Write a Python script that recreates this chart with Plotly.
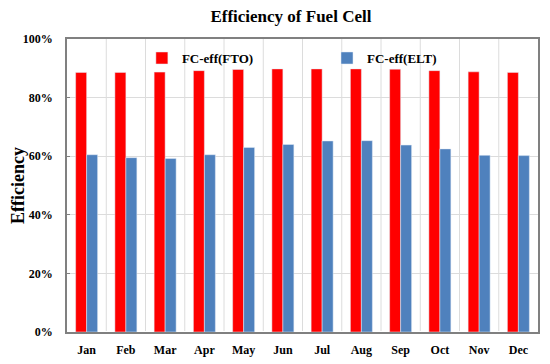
import plotly.graph_objects as go

months = ["Jan", "Feb", "Mar", "Apr", "May", "Jun", "Jul", "Aug", "Sep", "Oct", "Nov", "Dec"]
fto = [88.6, 88.6, 88.7, 89.2, 89.6, 89.8, 89.8, 89.8, 89.7, 89.2, 88.8, 88.6]
elt = [60.5, 59.5, 59.2, 60.5, 63.0, 64.0, 65.2, 65.3, 63.8, 62.5, 60.3, 60.2]
y_ticks = [0, 20, 40, 60, 80, 100]
y_labels = ["0%", "20%", "40%", "60%", "80%", "100%"]

ff = "Liberation Serif, Times New Roman, serif"

fig = go.Figure()
fig.add_trace(go.Bar(x=months, y=fto, name="FC-eff(FTO)", marker_color="#ff0000",
                     legend="legend", showlegend=True))
fig.add_trace(go.Bar(x=months, y=elt, name="FC-eff(ELT)", marker_color="#4f81bd",
                     legend="legend2", showlegend=True))

for i in range(1, 12):
    fig.add_vline(x=i - 0.5, line_color="#dcdcdc", line_width=1, layer="below")

legend_font = dict(family=ff, size=13, color="black", weight="bold")
tick_font = dict(family=ff, size=12, color="black", weight="bold")

fig.update_layout(
    width=542, height=356,
    margin=dict(l=59, r=12, t=31, b=32, autoexpand=False),
    paper_bgcolor="white", plot_bgcolor="white",
    barmode="group", bargap=0.44, bargroupgap=0,
    showlegend=True,
    title=dict(text="Efficiency of Fuel Cell", x=0.522, xanchor="center", y=0.977, yanchor="middle",
               font=dict(family=ff, size=17, color="black", weight="bold")),
    font=dict(family=ff, color="black"),
    legend=dict(x=0.159, y=0.935, xanchor="left", yanchor="middle", bgcolor="rgba(0,0,0,0)",
                font=legend_font, itemwidth=30),
    legend2=dict(x=0.552, y=0.935, xanchor="left", yanchor="middle", bgcolor="rgba(0,0,0,0)",
                 font=legend_font, itemwidth=30),
    xaxis=dict(showline=True, linecolor="#808080", linewidth=1.5, mirror=True, automargin=False,
               tickfont=tick_font, ticks="", showgrid=False, range=[-0.5, 11.5],
               ticklabelstandoff=6),
    yaxis=dict(range=[0, 100], tickvals=y_ticks, ticktext=y_labels, automargin=False,
               showline=True, linecolor="#808080", linewidth=1.5, mirror=True,
               showgrid=True, gridcolor="#dcdcdc",
               tickfont=tick_font,
               title=dict(text="Efficiency", font=dict(family=ff, size=18, color="black", weight="bold"),
                          standoff=2),
               ticks="inside", ticklen=3, tickcolor="#808080", ticklabelstandoff=10),
)

fig.write_html("out.html")
